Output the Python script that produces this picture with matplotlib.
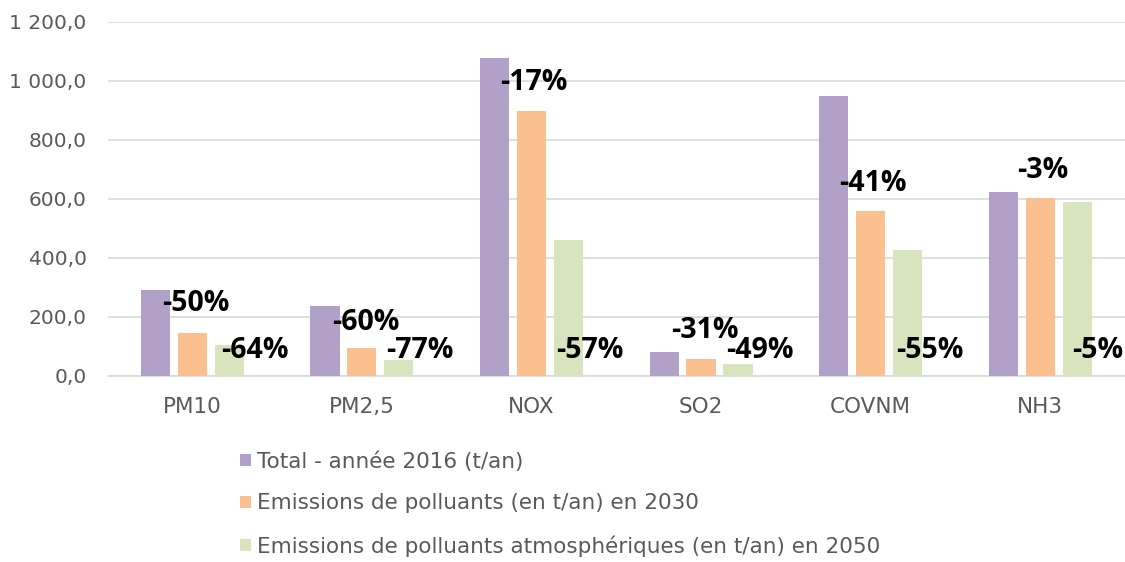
import matplotlib.pyplot as plt
import matplotlib.ticker as mticker
import numpy as np

plt.rcParams['font.family'] = ['DejaVu Sans']

# polluants
categories = ['PM10', 'PM2,5', 'NOX', 'SO2', 'COVNM', 'NH3']

# émissions (t/an)
total_2016 = [291, 237, 1077, 81, 949, 624]
emis_2030 = [144, 94, 898, 56, 559, 603]
emis_2050 = [103, 54, 460, 41, 426, 590]

series_names = [
    'Total - année 2016 (t/an)',
    'Emissions de polluants (en t/an) en 2030',
    'Emissions de polluants atmosphériques (en t/an) en 2050',
]

# réductions affichées
labels_2030 = ['-50%', '-60%', '-17%', '-31%', '-41%', '-3%']
labels_2050 = ['-64%', '-77%', '-57%', '-49%', '-55%', '-5%']

colors = ['#B1A0C7', '#FAC090', '#D7E4BD']

fig = plt.figure(figsize=(11.25, 5.62), dpi=100)
ax = fig.add_axes([0.0956, 0.3315, 0.9044, 0.6294])

x = np.arange(len(categories))
step = 0.218
width = 0.172
series = [total_2016, emis_2030, emis_2050]
bars = []
for i, (vals, c, name) in enumerate(zip(series, colors, series_names)):
    b = ax.bar(x + (i - 1) * step, vals, width, color=c, label=name, zorder=3)
    bars.append(b)

# étiquettes placées à la main (décalage en catégories, y en unités de données)
pos_2030 = [(-0.18, 246), (-0.177, 182), (-0.183, 996), (-0.177, 155), (-0.183, 653), (-0.135, 697)]
pos_2050 = [(0.168, 87), (0.141, 87), (0.147, 87), (0.147, 87), (0.153, 87), (0.19, 87)]
lbl_font = dict(family=['Open Sans', 'DejaVu Sans'], fontsize=20.5, fontweight='bold',
                color='black', ha='left', va='center', zorder=4)
for i in range(len(categories)):
    dx, y = pos_2030[i]
    ax.text(x[i] + dx, y, labels_2030[i], **lbl_font)
    dx, y = pos_2050[i]
    ax.text(x[i] + dx, y, labels_2050[i], **lbl_font)

ax.set_xlim(-0.5, len(categories) - 0.5)
ax.set_ylim(0, 1200)
ax.set_yticks(np.arange(0, 1201, 200))
ax.yaxis.set_major_formatter(mticker.FuncFormatter(
    lambda v, p: '{:,.1f}'.format(v).replace(',', ' ').replace('.', ',')))
ax.set_xticks(x)
ax.set_xticklabels(categories)
ax.grid(axis='y', color='#D9D9D9', linewidth=1.2, zorder=0)
for s in ['top', 'right', 'left']:
    ax.spines[s].set_visible(False)
ax.spines['bottom'].set_color('#D9D9D9')
ax.spines['bottom'].set_linewidth(1.2)
ax.tick_params(axis='both', length=0, colors='#595959')
ax.tick_params(axis='y', pad=15, labelsize=14.5)
ax.tick_params(axis='x', pad=15, labelsize=15.5)

fig.legend(handles=bars, labels=series_names, loc='upper left',
           bbox_to_anchor=(0.2133, 0.1975), ncol=1, frameon=False,
           fontsize=15.5, handlelength=0.5, handleheight=0.5,
           handletextpad=0.3, labelspacing=1.02, labelcolor='#595959',
           borderaxespad=0, borderpad=0)

fig.savefig('out.png', dpi=100)
